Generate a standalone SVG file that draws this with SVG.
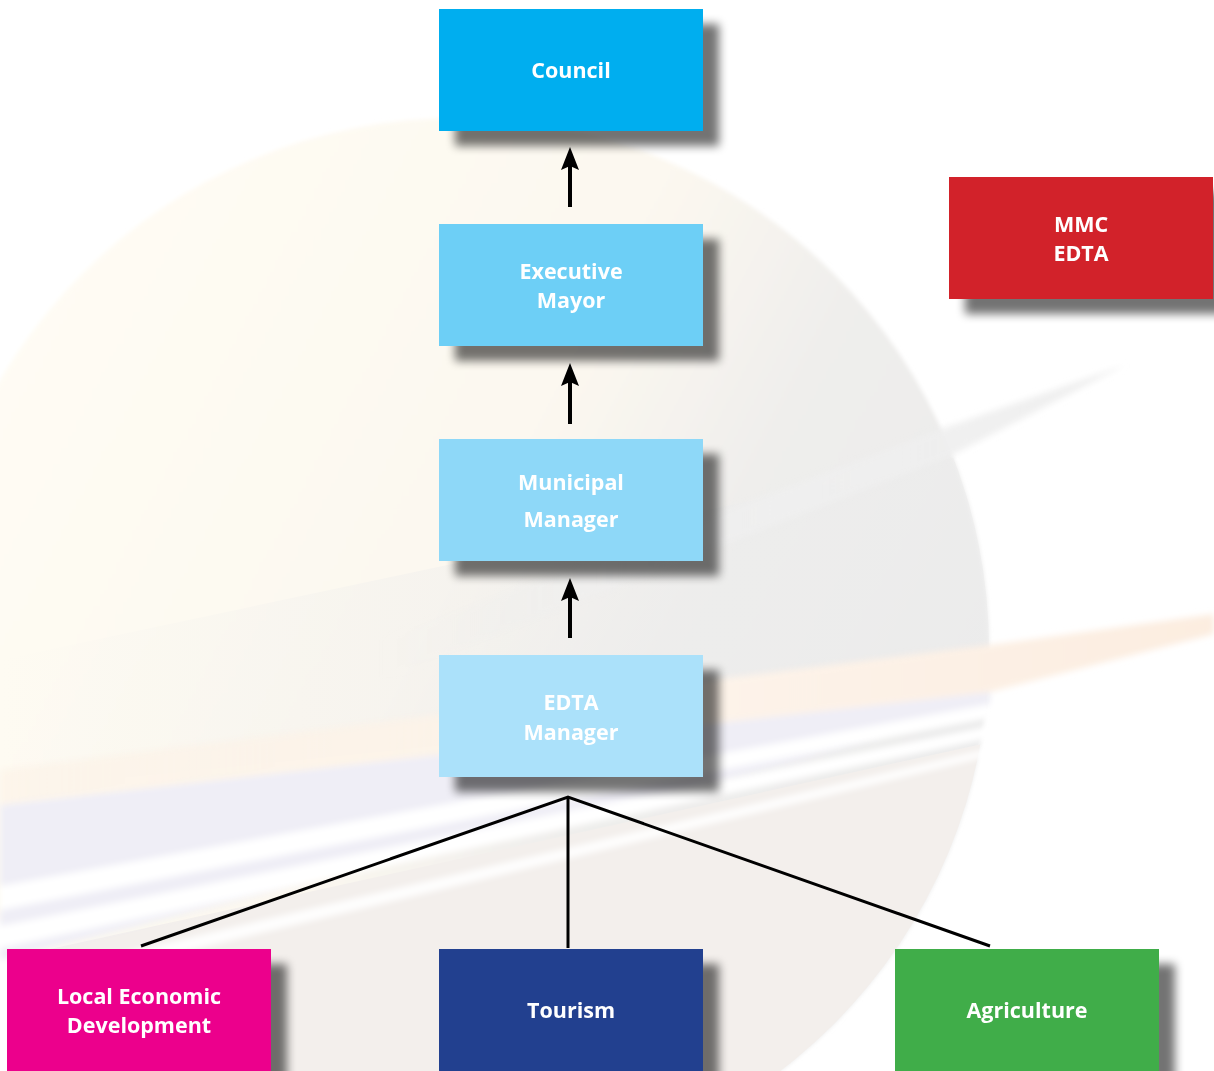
<svg xmlns="http://www.w3.org/2000/svg" width="1214" height="1071" viewBox="0 0 1214 1071">
  <defs>
    <style>
      .box { stroke: none; }
      .lbl { font-family: "Open Sans", "Liberation Sans", sans-serif; font-weight: 700; font-size: 21.5px; fill: #ffffff; text-anchor: middle; }
      .link { stroke: #000; stroke-width: 3; fill: none; }
      .arrow { stroke: #000; stroke-width: 4; fill: none; marker-end: url(#head); }
    </style>
    <marker id="head" viewBox="0 0 23 18" refX="11" refY="9" markerWidth="23" markerHeight="18" orient="auto" markerUnits="userSpaceOnUse">
      <path d="M0,0 L23,9 L0,18 L4,9 Z" fill="#000"/>
    </marker>
    <filter id="shadow" x="-20%" y="-20%" width="150%" height="160%">
      <feGaussianBlur in="SourceAlpha" stdDeviation="5"/>
      <feOffset dx="16" dy="15" result="b"/>
      <feComponentTransfer><feFuncA type="linear" slope="0.55"/></feComponentTransfer>
      <feMerge><feMergeNode/><feMergeNode in="SourceGraphic"/></feMerge>
    </filter>
    <!-- planet body: warm cream upper left, cool grey toward the right -->
    <linearGradient id="planet" x1="0.1" y1="0.15" x2="0.95" y2="0.6">
      <stop offset="0" stop-color="#fffcf4"/>
      <stop offset="0.5" stop-color="#fcf8f0"/>
      <stop offset="0.72" stop-color="#efeeec"/>
      <stop offset="1" stop-color="#ebebeb"/>
    </linearGradient>
    <linearGradient id="greyFade" x1="0" y1="0" x2="1" y2="0">
      <stop offset="0" stop-color="#ececec" stop-opacity="0"/>
      <stop offset="0.6" stop-color="#ececec" stop-opacity="0.5"/>
      <stop offset="1" stop-color="#ececec" stop-opacity="0.6"/>
    </linearGradient>
    <linearGradient id="streakFade" gradientUnits="userSpaceOnUse" x1="380" y1="0" x2="1125" y2="0">
      <stop offset="0" stop-color="#efefef" stop-opacity="0"/>
      <stop offset="0.5" stop-color="#efefef" stop-opacity="0.8"/>
      <stop offset="1" stop-color="#efefef" stop-opacity="1"/>
    </linearGradient>
    <linearGradient id="peach" x1="0" y1="0" x2="1" y2="0">
      <stop offset="0" stop-color="#fcf2e6" stop-opacity="0.6"/>
      <stop offset="0.6" stop-color="#fdf3e9"/>
      <stop offset="1" stop-color="#fcede0"/>
    </linearGradient>
    <clipPath id="body"><circle cx="458" cy="649" r="531"/></clipPath>
    <filter id="soft" x="-5%" y="-20%" width="110%" height="140%"><feGaussianBlur stdDeviation="3"/></filter>
    <filter id="soft2" x="-5%" y="-5%" width="110%" height="110%"><feGaussianBlur stdDeviation="2"/></filter>
  </defs>

  <rect width="1214" height="1071" fill="#ffffff"/>

  <!-- faint ringed planet in the background -->
  <g id="backdrop">
    <circle cx="458" cy="649" r="531" fill="url(#planet)" filter="url(#soft2)"/>
    <g clip-path="url(#body)">
      <!-- shaded lower half below the rings -->
      <polygon points="0,960 1000,740 1000,1071 0,1071" fill="#f3efec"/>
      <!-- grey band across the middle, fading out to the left -->
      <polygon points="0,660 990,450 990,690 0,790" fill="url(#greyFade)"/>
    </g>
    <g filter="url(#soft)">
      <!-- peach ring -->
      <polygon points="0,770 990,645 1214,614 1214,634 990,692 0,805" fill="url(#peach)"/>
      <!-- lavender ring -->
      <polygon points="0,805 990,692 990,712 0,960" fill="#efeef6"/>
      <!-- white streaks -->
      <polygon points="0,886 990,704 990,718 0,910" fill="#ffffff"/>
      <polygon points="0,926 990,726 990,738 0,948" fill="#ffffff"/>
      <polygon points="60,968 990,748 990,756 60,982" fill="#ffffff" opacity="0.9"/>
      <!-- thin upper streak -->
      <polygon points="380,640 941,429 1125,365 949,457 380,680" fill="url(#streakFade)"/>
    </g>
  </g>

  <!-- connectors -->
  <g id="connectors">
    <line class="arrow" x1="570" y1="207" x2="570" y2="159"/>
    <line class="arrow" x1="570" y1="424" x2="570" y2="375"/>
    <line class="arrow" x1="570" y1="638" x2="570" y2="590"/>
    <polyline class="link" points="141,946 568,797 990,946"/>
    <line class="link" x1="568" y1="797" x2="568" y2="948"/>
  </g>

  <g id="node-council" filter="url(#shadow)">
    <rect class="box" x="439" y="9" width="264" height="122" fill="#00aeef"/>
    <text class="lbl" x="571" y="78">Council</text>
  </g>

  <g id="node-mayor" filter="url(#shadow)">
    <rect class="box" x="439" y="224" width="264" height="122" fill="#6dcff6"/>
    <text class="lbl" x="571" y="279">Executive</text>
    <text class="lbl" x="571" y="308">Mayor</text>
  </g>

  <g id="node-municipal" filter="url(#shadow)">
    <rect class="box" x="439" y="439" width="264" height="122" fill="#8ed8f8"/>
    <text class="lbl" x="571" y="490">Municipal</text>
    <text class="lbl" x="571" y="527">Manager</text>
  </g>

  <g id="node-edta" filter="url(#shadow)">
    <rect class="box" x="439" y="655" width="264" height="122" fill="#abe1fa"/>
    <text class="lbl" x="571" y="710">EDTA</text>
    <text class="lbl" x="571" y="740">Manager</text>
  </g>

  <g id="node-mmc" filter="url(#shadow)">
    <rect class="box" x="949" y="177" width="264" height="122" fill="#d2232a"/>
    <text class="lbl" x="1081" y="232">MMC</text>
    <text class="lbl" x="1081" y="261">EDTA</text>
  </g>

  <g id="node-led" filter="url(#shadow)">
    <rect class="box" x="7" y="949" width="264" height="140" fill="#ec008c"/>
    <text class="lbl" x="139" y="1004">Local Economic</text>
    <text class="lbl" x="139" y="1033">Development</text>
  </g>

  <g id="node-tourism" filter="url(#shadow)">
    <rect class="box" x="439" y="949" width="264" height="140" fill="#233f8f"/>
    <text class="lbl" x="571" y="1018">Tourism</text>
  </g>

  <g id="node-agriculture" filter="url(#shadow)">
    <rect class="box" x="895" y="949" width="264" height="140" fill="#40ad49"/>
    <text class="lbl" x="1027" y="1018">Agriculture</text>
  </g>
</svg>
